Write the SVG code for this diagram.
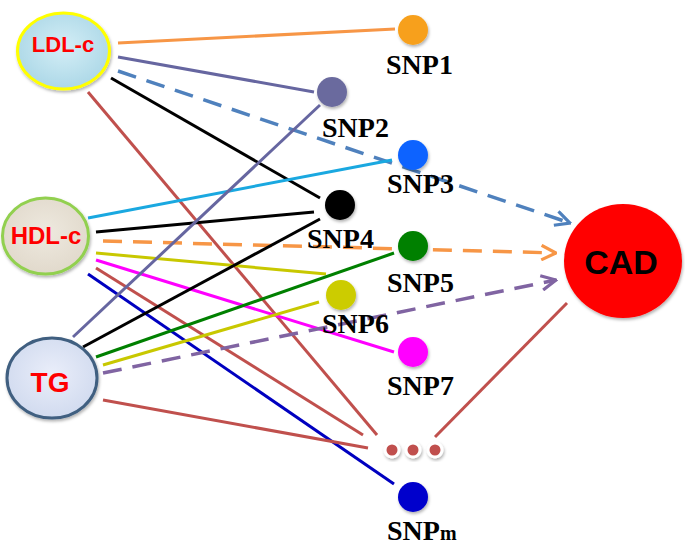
<svg xmlns="http://www.w3.org/2000/svg" width="685" height="546" viewBox="0 0 685 546">
<defs>
<style>
.ln{fill:none;stroke-width:3;stroke-linecap:butt}
.dash{stroke-dasharray:19 11;stroke-width:3.5}
.snp{stroke:none;filter:url(#sh)}
.lbl{font-family:"Liberation Serif","Times New Roman",serif;font-weight:bold;font-size:28px;fill:#000}
.nlbl{font-family:"Liberation Sans",Arial,sans-serif;font-weight:bold;fill:#ff0000;text-anchor:middle}
</style>
<filter id="sh" x="-30%" y="-30%" width="160%" height="160%">
<feDropShadow dx="1" dy="2" stdDeviation="1.5" flood-color="#000" flood-opacity="0.3"/>
</filter>
<radialGradient id="gLDL" cx="50%" cy="45%" r="60%">
<stop offset="0" stop-color="#d4eef6"/>
<stop offset="1" stop-color="#a9d6e6"/>
</radialGradient>
<radialGradient id="gHDL" cx="50%" cy="45%" r="60%">
<stop offset="0" stop-color="#eee9df"/>
<stop offset="1" stop-color="#e0d8ca"/>
</radialGradient>
<radialGradient id="gTG" cx="50%" cy="45%" r="60%">
<stop offset="0" stop-color="#eaeefa"/>
<stop offset="1" stop-color="#cfd9ee"/>
</radialGradient>
<marker id="aBlue" viewBox="0 0 12 12" refX="11" refY="6" markerWidth="5" markerHeight="5" markerUnits="strokeWidth" orient="auto">
<path d="M1,1 L11,6 L1,11" fill="none" stroke="#4f81bd" stroke-width="2.2"/>
</marker>
<marker id="aOrange" viewBox="0 0 12 12" refX="11" refY="6" markerWidth="5" markerHeight="5" markerUnits="strokeWidth" orient="auto">
<path d="M1,1 L11,6 L1,11" fill="none" stroke="#f79646" stroke-width="2.2"/>
</marker>
<marker id="aPurple" viewBox="0 0 12 12" refX="11" refY="6" markerWidth="5" markerHeight="5" markerUnits="strokeWidth" orient="auto">
<path d="M1,1 L11,6 L1,11" fill="none" stroke="#8064a2" stroke-width="2.2"/>
</marker>
</defs>
<rect width="685" height="546" fill="#ffffff"/>

<g id="connectors">
<!-- from LDL-c -->
<line class="ln" x1="118" y1="43" x2="395" y2="29" stroke="#f79646"/>
<line class="ln" x1="118" y1="57" x2="314" y2="92" stroke="#6666a0"/>
<line class="ln dash" x1="118" y1="71" x2="570" y2="223" stroke="#4f81bd" marker-end="url(#aBlue)"/>
<line class="ln" x1="111" y1="78" x2="320" y2="198" stroke="#000000"/>
<line class="ln" x1="88" y1="92" x2="377" y2="435" stroke="#c0504d"/>
<!-- from HDL-c -->
<line class="ln" x1="88" y1="218" x2="392" y2="160" stroke="#1aa8e0"/>
<line class="ln" x1="96" y1="232" x2="314" y2="212" stroke="#000000"/>
<line class="ln dash" x1="103" y1="241" x2="556" y2="253" stroke="#f79646" marker-end="url(#aOrange)"/>
<line class="ln" x1="96" y1="253" x2="326" y2="274" stroke="#c8c800"/>
<line class="ln" x1="96" y1="260" x2="394" y2="352" stroke="#ff00ff"/>
<line class="ln" x1="96" y1="268" x2="363" y2="435" stroke="#c0504d"/>
<line class="ln" x1="88" y1="274" x2="394" y2="484" stroke="#0000c0"/>
<!-- from TG -->
<line class="ln" x1="73" y1="337" x2="320" y2="105" stroke="#6666a0"/>
<line class="ln" x1="83" y1="347" x2="320" y2="219" stroke="#000000"/>
<line class="ln" x1="96" y1="357" x2="394" y2="253" stroke="#008000"/>
<line class="ln" x1="103" y1="365" x2="319" y2="302" stroke="#c8c800"/>
<line class="ln dash" x1="103" y1="373" x2="556" y2="280" stroke="#8064a2" marker-end="url(#aPurple)"/>
<line class="ln" x1="103" y1="400" x2="368" y2="448" stroke="#c0504d"/>
<!-- from ... to CAD -->
<line class="ln" x1="435" y1="437" x2="567" y2="303" stroke="#c0504d"/>
</g>

<g id="LDL-c">
<ellipse cx="63.5" cy="51" rx="46" ry="38" fill="url(#gLDL)" stroke="#ffff00" stroke-width="3" filter="url(#sh)"/>
<text class="nlbl" x="63" y="52" font-size="22">LDL-c</text>
</g>
<g id="HDL-c">
<ellipse cx="45.5" cy="236" rx="43" ry="38" fill="url(#gHDL)" stroke="#92d050" stroke-width="3" filter="url(#sh)"/>
<text class="nlbl" x="46" y="244" font-size="24">HDL-c</text>
</g>
<g id="TG">
<ellipse cx="52" cy="378" rx="45" ry="40" fill="url(#gTG)" stroke="#3f5f80" stroke-width="3" filter="url(#sh)"/>
<text class="nlbl" x="50" y="392" font-size="28">TG</text>
</g>
<g id="CAD">
<ellipse cx="623" cy="261" rx="59" ry="57" fill="#ff0000" filter="url(#sh)"/>
<text x="621" y="274" font-family="'Liberation Sans',Arial,sans-serif" font-weight="bold" font-size="34" text-anchor="middle" fill="#000">CAD</text>
</g>

<g id="SNP1">
<circle class="snp" cx="413" cy="30" r="15" fill="#f7a01c"/>
<text class="lbl" x="386" y="74">SNP1</text>
</g>
<g id="SNP2">
<circle class="snp" cx="332" cy="92" r="15" fill="#6b6b9e"/>
<text class="lbl" x="322" y="137">SNP2</text>
</g>
<g id="SNP3">
<circle class="snp" cx="413" cy="155" r="15" fill="#0a64ff"/>
<text class="lbl" x="387" y="193">SNP3</text>
</g>
<g id="SNP4">
<circle class="snp" cx="340" cy="205" r="15" fill="#000000"/>
<text class="lbl" x="307" y="248">SNP4</text>
</g>
<g id="SNP5">
<circle class="snp" cx="413" cy="246" r="15" fill="#008000"/>
<text class="lbl" x="387" y="292">SNP5</text>
</g>
<g id="SNP6">
<circle class="snp" cx="341" cy="295" r="15" fill="#cccc00"/>
<text class="lbl" x="322" y="333">SNP6</text>
</g>
<g id="SNP7">
<circle class="snp" cx="413" cy="352" r="15" fill="#ff00ff"/>
<text class="lbl" x="387" y="395">SNP7</text>
</g>
<g id="dots">
<circle cx="392" cy="450" r="7" fill="#c0504d" stroke="#ffffff" stroke-width="3" filter="url(#sh)"/>
<circle cx="413" cy="450" r="7" fill="#c0504d" stroke="#ffffff" stroke-width="3" filter="url(#sh)"/>
<circle cx="435" cy="450" r="7" fill="#c0504d" stroke="#ffffff" stroke-width="3" filter="url(#sh)"/>
</g>
<g id="SNPm">
<circle class="snp" cx="413" cy="497" r="15" fill="#0000cc"/>
<text class="lbl" x="387" y="540">SNP<tspan font-size="20">m</tspan></text>
</g>
</svg>
